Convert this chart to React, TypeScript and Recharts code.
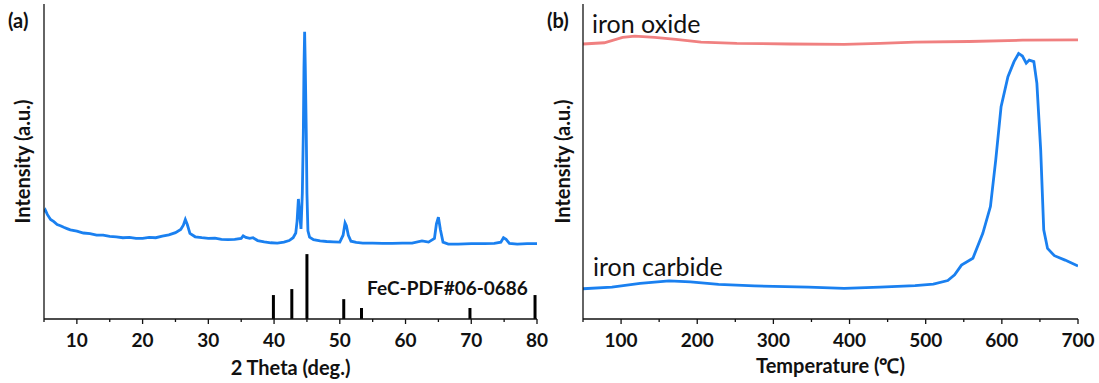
import React from 'react';
import { ComposedChart, Line, XAxis, YAxis, ReferenceLine } from 'recharts';

// XRD pattern, panel (a)
const xrdTheta = [
  5.0, 5.2, 5.5, 6.0, 6.5, 7.0, 7.5, 8.0, 8.5, 9.0, 10.0, 11.0, 12.0, 13.0, 14.0, 15.0, 16.0, 17.0,
  18.0, 19.0, 20.0, 21.0, 22.0, 23.0, 24.0, 25.0, 25.8, 26.2, 26.5, 26.8, 27.2, 28.0, 29.0, 30.0,
  31.0, 32.0, 33.0, 34.0, 35.0, 35.3, 35.7, 36.3, 36.8, 37.5, 38.5, 39.5, 40.5, 41.5, 42.3, 42.9,
  43.3, 43.5, 43.7, 43.9, 44.1, 44.3, 44.45, 44.55, 44.65, 44.75, 44.9, 45.0, 45.15, 45.4, 46.0,
  47.0, 48.0, 49.0, 50.0, 50.5, 50.8, 51.0, 51.3, 51.7, 52.5, 53.5, 55.0, 56.5, 58.0, 59.5, 61.0,
  62.5, 63.5, 64.4, 64.7, 65.0, 65.3, 65.7, 66.5, 68.0, 70.0, 72.0, 73.5, 74.5, 74.9, 75.3, 75.8,
  77.0, 78.5, 80.0,
];
const xrdIntensity = [
  34.0, 34.6, 33.2, 31.6, 30.9, 30.0, 29.6, 29.1, 28.7, 28.3, 27.9, 27.3, 27.1, 26.6, 26.6, 26.2, 26.1, 25.8,
  25.9, 25.6, 25.6, 25.9, 25.8, 26.3, 26.7, 27.4, 28.4, 29.8, 31.6, 30.0, 27.2, 26.1, 25.8, 25.6,
  25.7, 25.3, 25.2, 25.3, 25.6, 26.4, 25.9, 25.6, 25.8, 24.9, 24.5, 24.2, 24.1, 24.4, 24.9, 25.8,
  27.3, 31.0, 38.1, 33.0, 28.6, 40.0, 59.0, 80.0, 91.2, 80.0, 59.0, 40.0, 28.0, 26.0, 25.2,
  24.8, 24.6, 24.5, 24.4, 26.6, 30.5, 29.6, 26.6, 24.7, 24.3, 24.1, 24.1, 24.0, 24.0, 24.1, 24.1,
  24.8, 24.4, 25.6, 30.2, 32.3, 28.4, 24.4, 23.8, 23.8, 23.9, 23.9, 24.0, 24.4, 25.8, 25.3, 24.0,
  23.8, 23.9, 23.9,
];

// FeC reference card PDF#06-0686
const fecTheta = [39.9, 42.7, 45.0, 50.6, 53.3, 69.8, 79.7];
const fecIntensity = [7.6, 9.5, 20.6, 6.3, 3.5, 3.5, 7.6];

// TPR profiles, panel (b)
const oxideTemp = [50, 78, 102, 118, 144, 172, 205, 252, 322, 393, 440, 486, 557, 627, 700];
const oxideSignal = [87.3, 87.7, 89.4, 89.8, 89.4, 88.8, 87.9, 87.5, 87.3, 87.2, 87.5, 87.9, 88.1, 88.5, 88.6];

const carbideTemp = [
  50, 88, 125, 163, 191, 228, 275, 346, 393, 440, 486, 510, 529, 538, 547, 562, 575, 585, 592, 599,
  608, 616, 622, 627, 632, 636, 642, 646, 651, 655, 660, 669, 683, 700,
];
const carbideSignal = [
  9.6, 10.1, 11.3, 12.1, 11.8, 11.0, 10.5, 10.1, 9.7, 10.1, 10.6, 11.1, 12.2, 14.0, 17.1, 19.3, 27.2, 35.7, 50.5, 67.4,
  76.9, 81.7, 84.3, 83.5, 81.2, 82.2, 81.7, 74.8, 53.7, 28.3, 22.4, 20.1, 18.7, 16.8,
];

const xrdTicks = [5, 10, 15, 20, 25, 30, 35, 40, 45, 50, 55, 60, 65, 70, 75, 80];
const tprTicks = [50, 100, 150, 200, 250, 300, 350, 400, 450, 500, 550, 600, 650, 700];

const xrdData = xrdTheta.map((x, i) => ({ x, y: xrdIntensity[i] }));
const oxideData = oxideTemp.map((x, i) => ({ x, y: oxideSignal[i] }));
const carbideData = carbideTemp.map((x, i) => ({ x, y: carbideSignal[i] }));

const FONT = 'Lato, "Open Sans", sans-serif';
const TICK_SIZE = 5;

const AxisTick = (props: any) => {
  const { x, y, payload, step } = props;
  const major = payload.value % step === 0;
  const axisY = y - TICK_SIZE;
  return (
    <g>
      <line x1={x} x2={x} y1={axisY} y2={axisY + (major ? 5 : 3)} stroke="#111" strokeWidth={1.3} />
      {major && (
        <text x={x} y={axisY + 20} textAnchor="middle" dominantBaseline="central"
          fontFamily={FONT} fontWeight={700} fontSize={19} fill="#111">
          {payload.value}
        </text>
      )}
    </g>
  );
};

const titleStyle = { fontFamily: FONT, fontWeight: 700, fontSize: 20, fill: '#111' };

const note = (left: number, top: number, size: number, bold: boolean): React.CSSProperties => ({
  position: 'absolute', left, top: top - size / 2, fontSize: size, lineHeight: `${size}px`,
  fontWeight: bold ? 700 : 400, fontFamily: FONT, color: '#111', whiteSpace: 'nowrap',
});

export default function App() {
  return (
    <div style={{ position: 'absolute', left: 0, top: 0, width: 1099, height: 383, background: '#fff' }}>
      <div style={{ position: 'absolute', left: 0, top: 0 }}>
        <ComposedChart width={555} height={383} margin={{ top: 4, right: 18, bottom: 0, left: 0 }}>
          <XAxis dataKey="x" type="number" domain={[5, 80]} ticks={xrdTicks} interval={0}
            allowDataOverflow height={64} tickSize={TICK_SIZE} tickMargin={0} tickLine={false}
            axisLine={{ stroke: '#111', strokeWidth: 1.3 }} tick={<AxisTick step={10} />}
            label={{ value: '2 Theta (deg.)', position: 'insideBottom', offset: 8, style: titleStyle }} />
          <XAxis xAxisId="top" orientation="top" type="number" domain={[5, 80]} height={0}
            tick={false} tickLine={false} axisLine={{ stroke: '#555', strokeWidth: 1.3 }} />
          <YAxis type="number" domain={[0, 100]} width={44} tick={false} tickLine={false}
            axisLine={{ stroke: '#111', strokeWidth: 1.3 }}
            label={{ value: 'Intensity (a.u.)', angle: -90, position: 'center', dx: 1, style: titleStyle }} />
          <YAxis yAxisId="right" orientation="right" type="number" domain={[0, 100]} width={0}
            tick={false} tickLine={false} axisLine={{ stroke: '#555', strokeWidth: 1.3 }} />
          <Line data={xrdData} dataKey="y" type="linear" stroke="#1a80f0" strokeWidth={2.8}
            dot={false} isAnimationActive={false} />
          {fecTheta.map((t, i) => (
            <ReferenceLine key={t} segment={[{ x: t, y: 0 }, { x: t, y: fecIntensity[i] }]}
              stroke="#000" strokeWidth={3} ifOverflow="visible" />
          ))}
        </ComposedChart>
      </div>
      <div style={{ position: 'absolute', left: 540, top: 0 }}>
        <ComposedChart width={559} height={383} margin={{ top: 4, right: 21, bottom: 0, left: 0 }}>
          <XAxis dataKey="x" type="number" domain={[50, 700]} ticks={tprTicks} interval={0}
            allowDataOverflow height={64} tickSize={TICK_SIZE} tickMargin={0} tickLine={false}
            axisLine={{ stroke: '#111', strokeWidth: 1.3 }} tick={<AxisTick step={100} />}
            label={{ value: 'Temperature (℃)', position: 'insideBottom', offset: 10, style: titleStyle }} />
          <XAxis xAxisId="top" orientation="top" type="number" domain={[50, 700]} height={0}
            tick={false} tickLine={false} axisLine={{ stroke: '#555', strokeWidth: 1.3 }} />
          <YAxis type="number" domain={[0, 100]} width={43} tick={false} tickLine={false}
            axisLine={{ stroke: '#111', strokeWidth: 1.3 }}
            label={{ value: 'Intensity (a.u.)', angle: -90, position: 'center', dx: 1, style: titleStyle }} />
          <YAxis yAxisId="right" orientation="right" type="number" domain={[0, 100]} width={0}
            tick={false} tickLine={false} axisLine={{ stroke: '#555', strokeWidth: 1.3 }} />
          <Line data={oxideData} dataKey="y" type="linear" stroke="#f08080" strokeWidth={2.8}
            dot={false} isAnimationActive={false} />
          <Line data={carbideData} dataKey="y" type="linear" stroke="#1a80f0" strokeWidth={2.8}
            dot={false} isAnimationActive={false} />
        </ComposedChart>
      </div>
      <div style={note(8, 20, 20, true)}>(a)</div>
      <div style={note(547, 20, 20, true)}>(b)</div>
      <div style={note(367, 287, 19, true)}>FeC-PDF#06-0686</div>
      <div style={note(592, 23, 25, false)}>iron oxide</div>
      <div style={note(593, 266, 25, false)}>iron carbide</div>
    </div>
  );
}
